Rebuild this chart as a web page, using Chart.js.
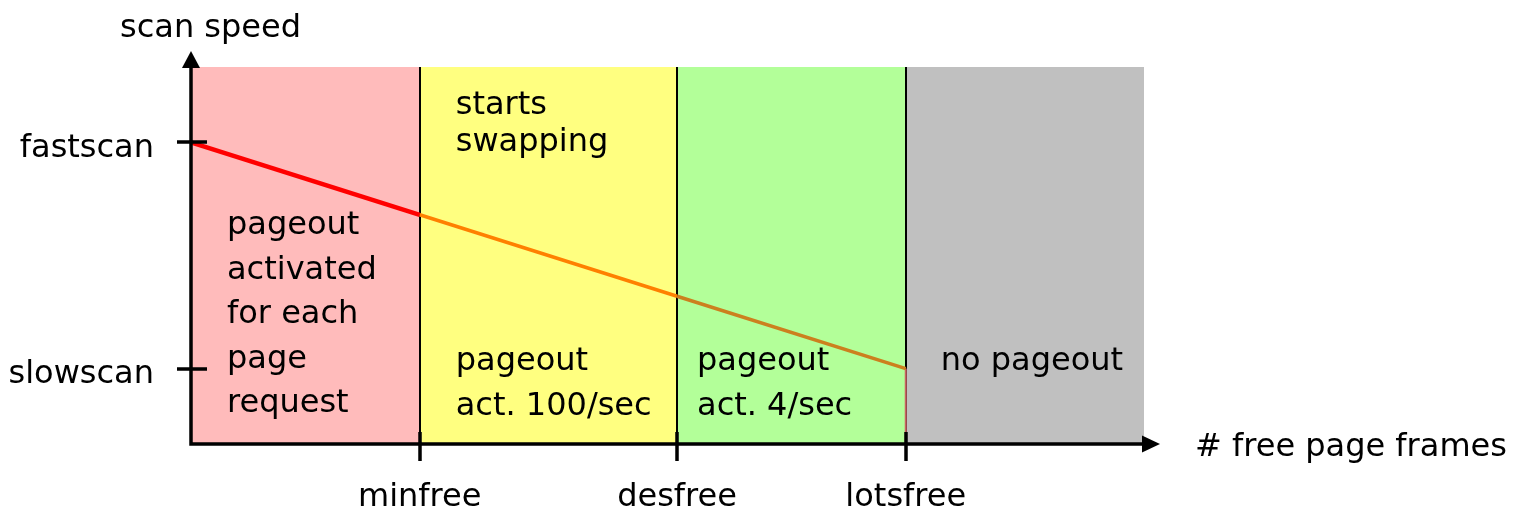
<!DOCTYPE html>
<html>
<head>
<meta charset="utf-8">
<script src="https://cdn.jsdelivr.net/npm/chart.js@4/dist/chart.umd.min.js"></script>
<style>
  html, body { margin: 0; padding: 0; background: #fff; }
  canvas { display: block; }
</style>
</head>
<body>
<canvas id="scanChart" width="1524" height="509"></canvas>
<script>
// pageout scan speed vs free memory

const regionEdges = [0, 2.4, 5.1, 7.5, 10];
const regionColors = ['#ffbbbb', '#ffff80', '#b3ff99', '#c0c0c0'];

const xTickValues = [2.4, 5.1, 7.5];
const xTickLabels = ['minfree', 'desfree', 'lotsfree'];
const yTickValues = [0.2, 0.8];
const yTickLabels = ['slowscan', 'fastscan'];

const speedX = [0, 2.4, 5.1, 7.5];
const speedY = [0.8, 0.608, 0.392, 0.2];
const segmentColors = ['#ff0000', '#ff8000', '#cc801e'];

const cutoffX = [7.5, 7.5];
const cutoffY = [0.2, 0];

const FAMILY = '"DejaVu Sans", Verdana, sans-serif';
const FONT = '32px ' + FAMILY;

// text blocks: region index, x offset from region start, first baseline, line step
const regionTexts = [
    { region: 0, dx: 36, y: 234, step: 44.5, lines: ['pageout', 'activated', 'for each', 'page', 'request'] },
    { region: 1, dx: 36, y: 114, step: 37, lines: ['starts', 'swapping'] },
    { region: 1, dx: 36, y: 370, step: 45, lines: ['pageout', 'act. 100/sec'] },
    { region: 2, dx: 20, y: 370, step: 45, lines: ['pageout', 'act. 4/sec'] },
    { region: 3, dx: 35, y: 370, step: 45, lines: ['no pageout'] }
];

const regionsPlugin = {
    id: 'regions',
    beforeDatasetsDraw(chart) {
        const ctx = chart.ctx;
        const x = chart.scales.x;
        const area = chart.chartArea;
        ctx.save();
        for (let i = 0; i < regionColors.length; i++) {
            const x0 = x.getPixelForValue(regionEdges[i]);
            const x1 = x.getPixelForValue(regionEdges[i + 1]);
            ctx.fillStyle = regionColors[i];
            ctx.fillRect(x0, area.top, x1 - x0, area.bottom - area.top);
        }
        // dividers
        ctx.strokeStyle = '#000';
        ctx.lineWidth = 2;
        for (let i = 1; i < regionEdges.length - 1; i++) {
            const px = Math.round(x.getPixelForValue(regionEdges[i]));
            ctx.beginPath();
            ctx.moveTo(px, area.top);
            ctx.lineTo(px, area.bottom);
            ctx.stroke();
        }
        // region notes
        ctx.fillStyle = '#000';
        ctx.font = FONT;
        ctx.textAlign = 'left';
        ctx.textBaseline = 'alphabetic';
        regionTexts.forEach(t => {
            const left = x.getPixelForValue(regionEdges[t.region]);
            t.lines.forEach((line, j) => {
                ctx.fillText(line, left + t.dx, t.y + j * t.step);
            });
        });
        ctx.restore();
    },
    afterDraw(chart) {
        const ctx = chart.ctx;
        const area = chart.chartArea;
        const x = chart.scales.x;
        const y = chart.scales.y;
        ctx.save();
        ctx.strokeStyle = '#000';
        ctx.fillStyle = '#000';
        ctx.lineWidth = 3.5;

        // axes
        ctx.beginPath();
        ctx.moveTo(area.left, area.bottom + 1.75);
        ctx.lineTo(area.left, 64);
        ctx.moveTo(area.left - 1.75, area.bottom);
        ctx.lineTo(1146, area.bottom);
        ctx.stroke();

        // arrow heads
        ctx.beginPath();
        ctx.moveTo(area.left, 51);
        ctx.lineTo(area.left - 9, 68);
        ctx.lineTo(area.left + 9, 68);
        ctx.closePath();
        ctx.fill();
        ctx.beginPath();
        ctx.moveTo(1160, area.bottom);
        ctx.lineTo(1142, area.bottom - 8.5);
        ctx.lineTo(1142, area.bottom + 8.5);
        ctx.closePath();
        ctx.fill();

        // tick marks
        ctx.lineWidth = 3.5;
        ctx.beginPath();
        yTickValues.forEach(v => {
            const py = Math.round(y.getPixelForValue(v));
            ctx.moveTo(area.left - 14, py);
            ctx.lineTo(area.left + 16, py);
        });
        xTickValues.forEach(v => {
            const px = Math.round(x.getPixelForValue(v));
            ctx.moveTo(px, area.bottom - 12);
            ctx.lineTo(px, area.bottom + 17);
        });
        ctx.stroke();

        // axis titles
        ctx.font = FONT;
        ctx.textAlign = 'left';
        ctx.textBaseline = 'alphabetic';
        ctx.fillText('scan speed', 120, 37);
        ctx.fillText('# free page frames', 1195, 456);
        ctx.restore();
    }
};

const ctx = document.getElementById('scanChart').getContext('2d');

new Chart(ctx, {
    type: 'line',
    data: {
        datasets: [
            {
                data: speedX.map((v, i) => ({ x: v, y: speedY[i] })),
                borderColor: segmentColors[0],
                borderWidth: 4.5,
                pointRadius: 0,
                tension: 0,
                segment: {
                    borderColor: c => segmentColors[c.p0DataIndex],
                    borderWidth: c => c.p0DataIndex === 0 ? 4.5 : 3.5
                }
            },
            {
                data: cutoffX.map((v, i) => ({ x: v, y: cutoffY[i] })),
                borderColor: '#c86464',
                borderWidth: 2,
                pointRadius: 0
            }
        ]
    },
    options: {
        responsive: false,
        animation: false,
        devicePixelRatio: 1,
        layout: {
            padding: { top: 67, right: 380, left: 0, bottom: 0 }
        },
        plugins: {
            legend: { display: false },
            tooltip: { enabled: false }
        },
        scales: {
            x: {
                type: 'linear',
                min: regionEdges[0],
                max: regionEdges[regionEdges.length - 1],
                grid: { display: false },
                border: { display: false },
                afterFit: scale => { scale.height = 65; },
                afterBuildTicks: scale => {
                    scale.ticks = xTickValues.map(v => ({ value: v }));
                },
                ticks: {
                    autoSkip: false,
                    maxRotation: 0,
                    padding: 26,
                    color: '#000',
                    font: { family: FAMILY, size: 32 },
                    callback: v => xTickLabels[xTickValues.indexOf(v)]
                }
            },
            y: {
                type: 'linear',
                min: 0,
                max: 1,
                grid: { display: false },
                border: { display: false },
                afterFit: scale => { scale.width = 191; },
                afterBuildTicks: scale => {
                    scale.ticks = yTickValues.map(v => ({ value: v }));
                },
                ticks: {
                    autoSkip: false,
                    padding: 29,
                    labelOffset: 6,
                    color: '#000',
                    font: { family: FAMILY, size: 32 },
                    callback: v => yTickLabels[yTickValues.indexOf(v)]
                }
            }
        }
    },
    plugins: [regionsPlugin]
});
</script>
</body>
</html>
